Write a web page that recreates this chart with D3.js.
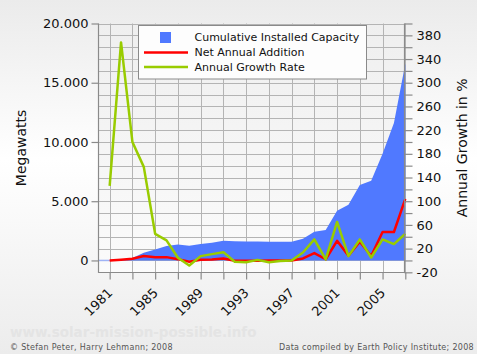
<!DOCTYPE html>
<html>
<head>
<meta charset="utf-8">
<script src="https://cdn.jsdelivr.net/npm/d3@7"></script>
<style>
  html, body { margin: 0; padding: 0; }
  body { width: 477px; height: 354px; overflow: hidden; font-family: "DejaVu Sans", sans-serif; }
</style>
</head>
<body>
<div id="chart"></div>
<script>
// years, one per point
const years = d3.range(1981, 2008);

// cumulative installed capacity (MW), left axis
const cumulative = [20, 90, 200, 650, 930, 1210, 1350, 1240, 1380, 1490, 1660, 1630, 1600,
  1600, 1580, 1580, 1580, 1830, 2420, 2560, 4200, 4700, 6370, 6730, 9000, 11600, 16600];

// net annual addition (MW), left axis
const netAddition = [0, 60, 140, 370, 280, 280, 110, -110, 60, 85, 170, -30, -30,
  -20, -10, 0, 0, 170, 620, 100, 1660, 400, 1580, 370, 2400, 2400, 5200];

// annual growth rate (%), right axis
const growthRate = [126, 368, 200, 158, 45, 34, 4.5, -8.5, 7.3, 10.7, 14, -2.3, -3,
  1, -3, -1, 0, 13.5, 35.5, 1.7, 65, 7.3, 35.5, 5, 35.5, 27.6, 45];

const leftTicks = [0, 5000, 10000, 15000, 20000];
const rightTicks = d3.range(-20, 400, 40);
const yearTicks = d3.range(1981, 2008, 4);

const legendLabels = ["Cumulative Installed Capacity", "Net Annual Addition", "Annual Growth Rate"];

// dimensions
const width = 477, height = 354;
const pLeft = 98.3, pRight = 405.3, pTop = 23.5, pBottom = 272.3;

const blue = "#5079ff", red = "#ff0000", green = "#99cc00";

const x = d3.scaleLinear().domain([1980, 2007]).range([pLeft, pRight]);
const yL = d3.scaleLinear().domain([-1000, 20000]).range([pBottom, pTop]);
const yR = d3.scaleLinear().domain([-20, 400]).range([pBottom, pTop]);

const svg = d3.select("#chart").append("svg")
  .attr("width", width).attr("height", height)
  .style("font-family", "'DejaVu Sans', sans-serif");

const defs = svg.append("defs");
const bg = defs.append("linearGradient").attr("id", "bg").attr("x1", 0).attr("y1", 0).attr("x2", 0).attr("y2", 1);
bg.append("stop").attr("offset", "0%").attr("stop-color", "#ebebeb");
bg.append("stop").attr("offset", "45%").attr("stop-color", "#ffffff");
bg.append("stop").attr("offset", "100%").attr("stop-color", "#ececec");
const pbg = defs.append("linearGradient").attr("id", "pbg").attr("x1", 0).attr("y1", 0).attr("x2", 0).attr("y2", 1);
pbg.append("stop").attr("offset", "0%").attr("stop-color", "#efefef");
pbg.append("stop").attr("offset", "100%").attr("stop-color", "#fbfbfb");

svg.append("rect").attr("width", width).attr("height", height).attr("fill", "url(#bg)");
svg.append("rect").attr("x", pLeft).attr("y", pTop).attr("width", pRight - pLeft).attr("height", pBottom - pTop)
  .attr("fill", "url(#pbg)");

// grid
const grid = svg.append("g").attr("stroke", "#b4b4b4").attr("stroke-width", 1);
grid.selectAll(".h").data(d3.range(-1000, 20001, 1000)).enter().append("line")
  .attr("x1", pLeft).attr("x2", pRight)
  .attr("y1", d => Math.round(yL(d)) + 0.5).attr("y2", d => Math.round(yL(d)) + 0.5);
grid.selectAll(".v").data(d3.range(1981, 2008, 2)).enter().append("line")
  .attr("y1", pTop).attr("y2", pBottom)
  .attr("x1", d => Math.round(x(d)) + 0.5).attr("x2", d => Math.round(x(d)) + 0.5);

// zero baseline of the area before the first year
svg.append("line").attr("x1", pLeft).attr("x2", x(1981))
  .attr("y1", yL(0)).attr("y2", yL(0)).attr("stroke", "#9fb3f5").attr("stroke-width", 1.5);

// cumulative area
const area = d3.area().x((d, i) => x(years[i])).y0(yL(0)).y1(d => yL(d));
svg.append("path").datum(cumulative).attr("d", area).attr("fill", blue);

// lines
const lineL = d3.line().x((d, i) => x(years[i])).y(d => yL(d));
const lineR = d3.line().x((d, i) => x(years[i])).y(d => yR(d));
svg.append("path").datum(netAddition).attr("d", lineL)
  .attr("fill", "none").attr("stroke", red).attr("stroke-width", 2.5).attr("stroke-linejoin", "round");
svg.append("path").datum(growthRate).attr("d", lineR)
  .attr("fill", "none").attr("stroke", green).attr("stroke-width", 2.5).attr("stroke-linejoin", "round");

// axes
const axisColor = "#8a8a8a";
const gL = svg.append("g").attr("transform", `translate(${Math.round(pLeft) + 0.5},0)`)
  .call(d3.axisLeft(yL).tickValues(leftTicks).tickSize(7).tickPadding(3)
    .tickFormat(d => d3.format(",")(d).replace(/,/g, ".")));
const gR = svg.append("g").attr("transform", `translate(${Math.round(pRight) - 0.5},0)`)
  .call(d3.axisRight(yR).tickValues(d3.range(-20, 401, 20)).tickSize(8).tickPadding(4)
    .tickFormat(d => rightTicks.includes(d) ? d : ""));
const gB = svg.append("g").attr("transform", `translate(0,${Math.round(pBottom) + 0.5})`)
  .call(d3.axisBottom(x).tickValues(d3.range(1981, 2008, 2)).tickSize(7)
    .tickFormat(d => yearTicks.includes(d) ? d : ""));

[gL, gR, gB].forEach(g => {
  g.select(".domain").attr("stroke", axisColor).attr("stroke-width", 1.2);
  g.selectAll(".tick line").attr("stroke", axisColor).attr("stroke-width", 1.2);
  g.selectAll("text").attr("fill", "#111").style("font-size", "13px")
    .style("font-family", "'DejaVu Sans', sans-serif");
});
gL.select(".domain").attr("d", `M0,${pTop}V${pBottom + 0.5}`);
gR.select(".domain").attr("d", `M0,${pTop}V${pBottom + 0.5}`);
gB.select(".domain").attr("d", `M${pLeft},0H${pRight}`);

gB.selectAll("text")
  .attr("text-anchor", "end")
  .attr("transform", "translate(-9,9) rotate(-45)")
  .attr("dy", "0.7em").attr("dx", "0em").attr("y", 8);

// axis titles
svg.append("text").attr("transform", `translate(26,${(pTop + pBottom) / 2}) rotate(-90)`)
  .attr("text-anchor", "middle").style("font-size", "14px").attr("fill", "#111").text("Megawatts");
svg.append("text").attr("transform", `translate(467,${(pTop + pBottom) / 2}) rotate(-90)`)
  .attr("text-anchor", "middle").style("font-size", "14px").attr("fill", "#111").text("Annual Growth in %");

// legend
const lg = svg.append("g");
lg.append("rect").attr("x", 138.5).attr("y", 25.5).attr("width", 228).attr("height", 53.5)
  .attr("fill", "#fdfdfd").attr("stroke", "#8a8a8a").attr("stroke-width", 1);
const rowY = [37.5, 52.5, 67];
lg.append("rect").attr("x", 160).attr("y", 32).attr("width", 11).attr("height", 11).attr("fill", blue);
lg.append("line").attr("x1", 144).attr("x2", 188).attr("y1", rowY[1]).attr("y2", rowY[1])
  .attr("stroke", red).attr("stroke-width", 2.5);
lg.append("line").attr("x1", 144).attr("x2", 188).attr("y1", rowY[2]).attr("y2", rowY[2])
  .attr("stroke", green).attr("stroke-width", 2.5);
lg.selectAll(".lt").data(legendLabels).enter().append("text")
  .attr("x", 194.5).attr("y", (d, i) => rowY[i]).attr("dy", "0.35em")
  .style("font-size", "11px").attr("fill", "#111").text(d => d);

// footer
svg.append("text").attr("x", 10).attr("y", 337).style("font-size", "13.5px").style("font-weight", "bold")
  .attr("fill", "#e4e4e4").text("www.solar-mission-possible.info");
svg.append("text").attr("x", 10).attr("y", 350).style("font-size", "8px").style("letter-spacing", "0.3px")
  .attr("fill", "#555").text("© Stefan Peter, Harry Lehmann; 2008");
svg.append("text").attr("x", 474).attr("y", 350).attr("text-anchor", "end").style("font-size", "8px")
  .style("letter-spacing", "0.3px").attr("fill", "#555").text("Data compiled by Earth Policy Institute; 2008");
</script>
</body>
</html>
